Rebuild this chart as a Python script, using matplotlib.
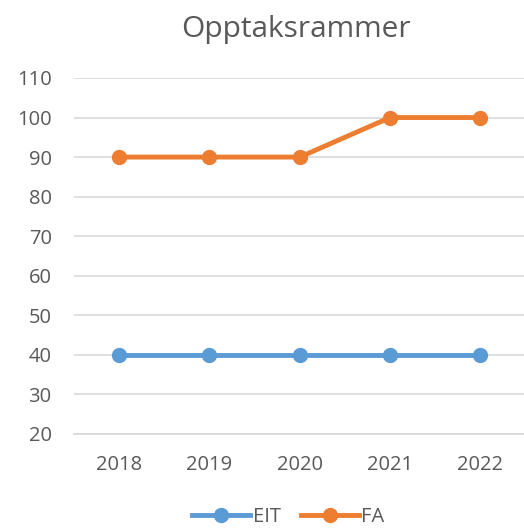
import matplotlib.pyplot as plt

years = ["2018", "2019", "2020", "2021", "2022"]
eit = [40, 40, 40, 40, 40]
fa = [90, 90, 90, 100, 100]

plt.rcParams["font.family"] = ["Open Sans", "DejaVu Sans"]

fig = plt.figure(figsize=(5.24, 5.29), dpi=100)
ax = fig.add_axes([0.141, 0.1796, 0.862, 0.673])

x = range(len(years))
ax.plot(x, eit, color="#5B9BD5", lw=3.5, marker="o", ms=10, label="EIT")
ax.plot(x, fa, color="#ED7D31", lw=3.5, marker="o", ms=10, label="FA")

ax.set_xlim(-0.5, len(years) - 0.5)
ax.set_ylim(20, 110)
ax.set_yticks(range(20, 111, 10))
ax.set_xticks(list(x))
ax.set_xticklabels(years)
ax.grid(axis="y", color="#D9D9D9", lw=1.2)
ax.set_axisbelow(True)
for s in ["top", "right", "left"]:
    ax.spines[s].set_visible(False)
ax.spines["bottom"].set_color("#D9D9D9")
ax.spines["bottom"].set_linewidth(1.2)
ax.tick_params(length=0, labelsize=14.5, colors="#595959", pad=15)
ax.tick_params(axis="y", pad=16)

fig.text(0.565, 0.945, "Opptaksrammer", ha="center", va="center",
         fontsize=21.5, color="#595959")
fig.legend(loc="center", bbox_to_anchor=(0.55, 0.022), ncol=2, frameon=False,
           fontsize=14.5, labelcolor="#595959", handlelength=2.9,
           handletextpad=0.1, columnspacing=1.0)

plt.savefig("out.png")
